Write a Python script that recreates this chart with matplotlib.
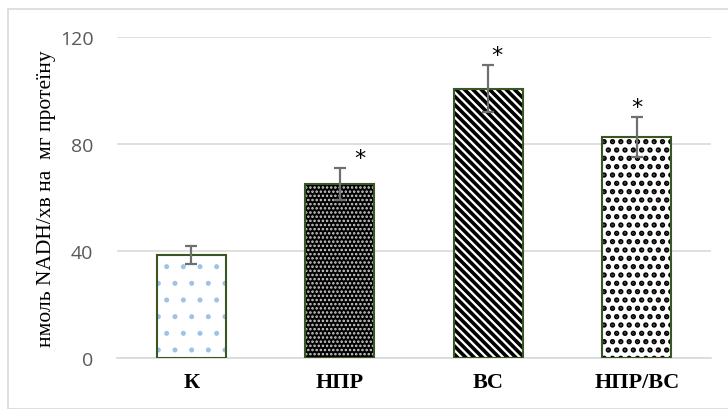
import matplotlib
matplotlib.use("Agg")
import matplotlib.pyplot as plt
from matplotlib.patches import Rectangle

# data
categories = ["К", "НПР", "ВС", "НПР/ВС"]
values = [38.5, 65.2, 100.7, 82.7]
errors = [3.4, 6.0, 8.8, 7.5]
marks = ["", "*", "*", "*"]

# per bar fill style: (face, hatch, hatch colour, hatch linewidth)
styles = [
    ("white", ".", "#9dc3e6", 1.2),
    ("black", "....", "#d0d0d0", 1.2),
    ("white", "\\\\\\\\", "black", 2.6),
    ("white", "..", "black", 2.6),
]
mark_dx = [0, 20, 9, 0]  # pixel offsets of the asterisks

fig = plt.figure(figsize=(7.28, 4.10), dpi=100)
ax = fig.add_axes([0.1607, 0.1244, 0.816, 0.7829])

# light frame around the whole chart
fig.patches.append(Rectangle((8 / 728, 0), 1, 1 - 10 / 410, transform=fig.transFigure,
                             fill=False, edgecolor="#d9d9d9", linewidth=1.2))

x = range(len(categories))
width = 0.465
for i, (face, hatch, hcol, hlw) in enumerate(styles):
    with plt.rc_context({"hatch.linewidth": hlw}):
        ax.bar(i, values[i], width=width, color=face, edgecolor=hcol,
               hatch=hatch, linewidth=0, zorder=2)
ax.bar(x, values, width=width, fill=False, edgecolor="#385723",
       linewidth=1.5, zorder=3)
ax.errorbar(x, values, yerr=errors, fmt="none", ecolor="#6f6f6f",
            elinewidth=1.6, capsize=4.5, capthick=1.6, zorder=4)

for i, m in enumerate(marks):
    if m:
        ax.annotate(m, (i, values[i] + errors[i]), xytext=(mark_dx[i] * 0.72, 7),
                    textcoords="offset points", ha="center", va="center",
                    fontsize=16, fontfamily="DejaVu Sans", zorder=5)

ax.set_xlim(-0.5, 3.5)
ax.set_ylim(0, 120)
ax.set_yticks([0, 40, 80, 120])
ax.yaxis.grid(True, color="#d9d9d9", linewidth=1.2, zorder=0)
ax.set_axisbelow(True)
for s in ["top", "right", "left"]:
    ax.spines[s].set_visible(False)
ax.spines["bottom"].set_color("#d9d9d9")
ax.spines["bottom"].set_linewidth(1.2)

ax.tick_params(axis="y", length=0, pad=17, labelsize=14, labelcolor="#595959")
ax.tick_params(axis="x", length=0, pad=10)
for lab in ax.get_yticklabels():
    lab.set_fontfamily("Open Sans")
ax.set_xticks(list(x))
ax.set_xticklabels(categories, fontfamily="Liberation Serif", fontweight="bold",
                   fontsize=16)

ax.set_ylabel("нмоль NADH/хв на  мг протеїну", fontfamily="Liberation Serif",
              fontsize=15.5, labelpad=3)

fig.savefig("out.png", dpi=100)
